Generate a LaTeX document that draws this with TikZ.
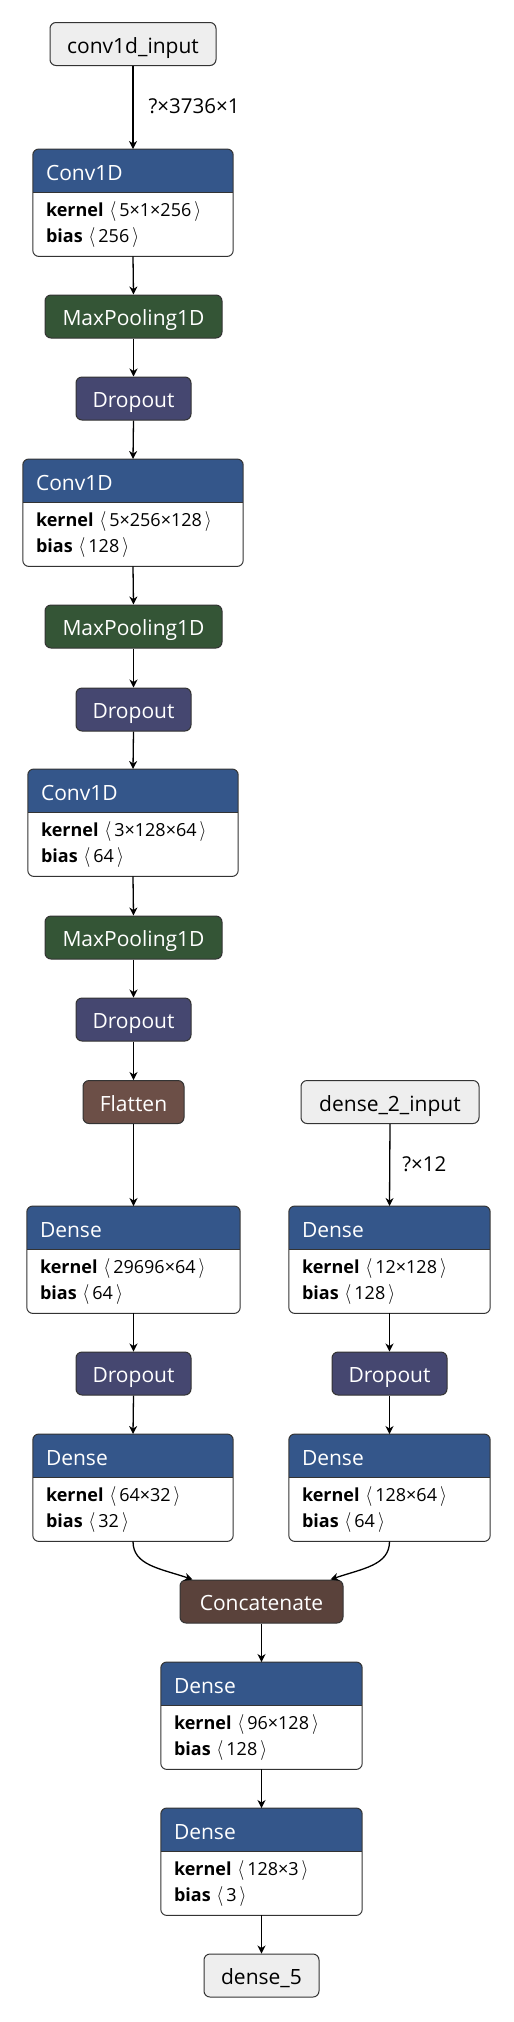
\documentclass[tikz,border=0pt]{standalone}
\usepackage{fontspec}
\setmainfont{Open Sans}
\usetikzlibrary{arrows.meta,calc}
\definecolor{hdr}{HTML}{34568A}
\definecolor{poolc}{HTML}{345536}
\definecolor{dropc}{HTML}{454770}
\definecolor{flatc}{HTML}{6C4F47}
\definecolor{catc}{HTML}{5A423B}
\definecolor{inc}{HTML}{EEEEEE}
\definecolor{bdc}{HTML}{333333}
\newcommand{\lang}{\scalebox{1}[1.15]{$\langle$}}
\newcommand{\rang}{\scalebox{1}[1.15]{$\rangle$}}
\newcommand{\nnlayer}[7]{%
  \node[lbox, minimum width=#4pt, anchor=north] (#1) at (#2,#3) {};
  \begin{scope}
    \clip[rounded corners=6pt] (#1.north west) rectangle (#1.south east);
    \fill[hdr] (#1.north west) rectangle ([yshift=-43pt]#1.north east);
  \end{scope}
  \draw[bdc, line width=1pt] ([yshift=-43pt]#1.north west) -- ([yshift=-43pt]#1.north east);
  \draw[bdc, line width=1pt, rounded corners=6pt] (#1.north west) rectangle (#1.south east);
  \node[htext, anchor=base west] (#1-t) at ([xshift=13pt, yshift=-31pt]#1.north west) {#5};
  \node[btext, anchor=base west] (#1-k) at ([xshift=13pt, yshift=-67pt]#1.north west) {\textbf{kernel}\,\,\lang\,#6\,\rang};
  \node[btext, anchor=base west] (#1-b) at ([xshift=13pt, yshift=-93.5pt]#1.north west) {\textbf{bias}\,\,\lang\,#7\,\rang};
}
\begin{document}
\begin{tikzpicture}[x=1pt, y=-1pt,
  small/.style={font=\fontsize{21}{25}\selectfont, text height=18pt, text depth=0pt, inner sep=0pt,
    minimum height=43pt, rounded corners=6pt, draw=bdc, line width=1pt},
  inbox/.style={small, fill=inc, text=black},
  pool/.style={small, fill=poolc, text=white},
  drop/.style={small, fill=dropc, text=white},
  flat/.style={small, fill=flatc, text=white},
  cat/.style={small, fill=catc, text=white},
  lbox/.style={minimum height=107pt, inner sep=0pt, fill=white},
  htext/.style={font=\fontsize{21}{25}\selectfont, text=white, inner sep=0pt},
  btext/.style={font=\fontsize{18}{21}\selectfont, text=black, inner sep=0pt},
  elabel/.style={font=\fontsize{20.5}{24}\selectfont, text=black, inner sep=0pt, anchor=west},
  arr/.style={draw=black, line width=1.3pt, -{Stealth[length=8pt, width=8pt, inset=2.5pt]}}
]
\useasboundingbox (0,0) rectangle (514,2022);

% main column
\node[inbox, minimum width=166pt] (in1) at (133,44) {conv1d\_input};
\nnlayer{conv1}{133}{149}{200}{Conv1D}{5×1×256}{256}
\node[pool, minimum width=177pt] (pool1) at (133.5,316.5) {MaxPooling1D};
\node[drop, minimum width=115pt] (drop1) at (133.5,398.5) {Dropout};
\nnlayer{conv2}{133}{459}{220}{Conv1D}{5×256×128}{128}
\node[pool, minimum width=177pt] (pool2) at (133.5,626.5) {MaxPooling1D};
\node[drop, minimum width=115pt] (drop2) at (133.5,709.5) {Dropout};
\nnlayer{conv3}{133}{769}{210}{Conv1D}{3×128×64}{64}
\node[pool, minimum width=177pt] (pool3) at (133.5,937.5) {MaxPooling1D};
\node[drop, minimum width=115pt] (drop3) at (133.5,1019.5) {Dropout};
\node[flat, minimum width=101pt] (flat) at (133.5,1102) {Flatten};
\node[inbox, minimum width=178pt] (in2) at (390,1102) {dense\_2\_input};

\nnlayer{d1L}{133.5}{1206}{213}{Dense}{29696×64}{64}
\nnlayer{d1R}{389.5}{1206}{201}{Dense}{12×128}{128}
\node[drop, minimum width=115pt] (dropL) at (133.5,1373.5) {Dropout};
\node[drop, minimum width=115pt] (dropR) at (389.5,1373.5) {Dropout};
\nnlayer{d2L}{133}{1434}{200}{Dense}{64×32}{32}
\nnlayer{d2R}{389.5}{1434}{201}{Dense}{128×64}{64}
\node[cat, minimum width=163pt] (concat) at (261.5,1601.5) {Concatenate};
\nnlayer{d3}{261.5}{1662}{201}{Dense}{96×128}{128}
\nnlayer{d4}{261.5}{1808}{201}{Dense}{128×3}{3}
\node[inbox, minimum width=115pt] (out) at (261.5,1975.5) {dense\_5};

% connectors
\draw[arr] (in1.south) -- node[elabel, midway, xshift=15pt, yshift=1pt] {?×3736×1} (conv1.north);
\draw[arr] (conv1.south) -- (pool1.north);
\draw[arr] (pool1.south) -- (drop1.north);
\draw[arr] (drop1.south) -- (conv2.north);
\draw[arr] (conv2.south) -- (pool2.north);
\draw[arr] (pool2.south) -- (drop2.north);
\draw[arr] (drop2.south) -- (conv3.north);
\draw[arr] (conv3.south) -- (pool3.north);
\draw[arr] (pool3.south) -- (drop3.north);
\draw[arr] (drop3.south) -- (flat.north);
\draw[arr] (flat.south) -- (d1L.north);
\draw[arr] (in2.south) -- node[elabel, midway, xshift=12pt, yshift=1pt] {?×12} (d1R.north);
\draw[arr] (d1L.south) -- (dropL.north);
\draw[arr] (d1R.south) -- (dropR.north);
\draw[arr] (dropL.south) -- (d2L.north);
\draw[arr] (dropR.south) -- (d2R.north);
\draw[arr] (d2L.south) .. controls +(0,24) and +(-32,-11) .. ($(concat.north west)+(13,0)$);
\draw[arr] (d2R.south) .. controls +(0,24) and +(32,-11) .. ($(concat.north east)+(-13,0)$);
\draw[arr] (concat.south) -- (d3.north);
\draw[arr] (d3.south) -- (d4.north);
\draw[arr] (d4.south) -- (out.north);
\end{tikzpicture}
\end{document}
